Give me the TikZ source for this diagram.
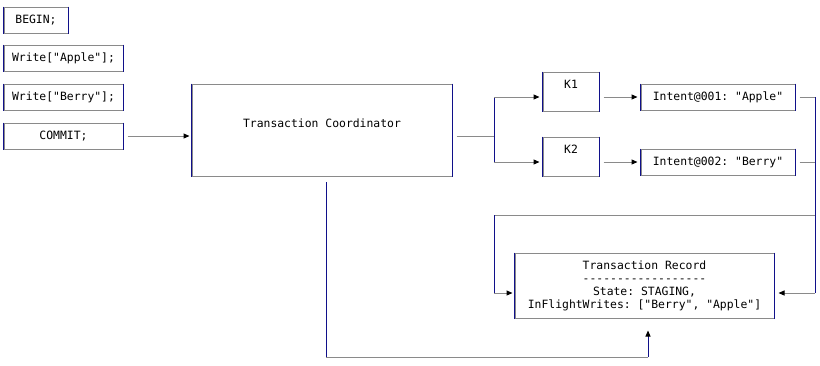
\documentclass[tikz,border=0pt]{standalone}
\usepackage{fontspec}
\setmonofont{DejaVu Sans Mono}
\usetikzlibrary{arrows.meta}
\definecolor{hgray}{HTML}{8A8A8A}
\definecolor{vnavy}{HTML}{10108A}
\begin{document}
\begin{tikzpicture}[x=1pt,y=-1pt,
  box/.style={draw=hgray, line width=1pt, fill=white, inner sep=0pt,
    font=\ttfamily\fontsize{11.4}{13}\selectfont, align=center},
  lbl/.style={font=\ttfamily\fontsize{11.4}{13}\selectfont, inner sep=0pt},
  hline/.style={draw=hgray, line width=1pt},
  vline/.style={draw=vnavy, line width=1pt},
  tip/.style={-{Triangle[length=6pt,width=5pt,color=black]}}]
\useasboundingbox (0,0) rectangle (820,365);
% boxes
\node[box, minimum width=64, minimum height=26] (begin) at (36,20) {BEGIN;};
\node[box, minimum width=119, minimum height=26] (wa) at (63.5,58) {Write["Apple"];};
\node[box, minimum width=119, minimum height=26] (wb) at (63.5,97) {Write["Berry"];};
\node[box, minimum width=119, minimum height=26] (commit) at (63.5,136) {COMMIT;};
\node[box, minimum width=260, minimum height=92,
  label={[lbl,yshift=7pt]center:Transaction Coordinator}] (tc) at (322,130) {};
\node[box, minimum width=56, minimum height=39,
  label={[lbl,yshift=7.5pt]center:K1}] (k1) at (571,91.5) {};
\node[box, minimum width=56, minimum height=39,
  label={[lbl,yshift=7.5pt]center:K2}] (k2) at (571,156.5) {};
\node[box, minimum width=154, minimum height=26] (i1) at (718,97) {Intent@001: "Apple"};
\node[box, minimum width=154, minimum height=26] (i2) at (718,162) {Intent@002: "Berry"};
\node[box, minimum width=259, minimum height=65] (tr) at (644.5,285.5)
  {Transaction Record\\------------------\\State: STAGING,\\InFlightWrites: ["Berry", "Apple"]};
\foreach \n in {begin,wa,wb,commit,tc,k1,k2,i1,i2,tr}
  \draw[vline] (\n.north west) -- (\n.south west) (\n.north east) -- (\n.south east);
% coordinates
\coordinate (fork) at (494,136);
\coordinate (bus) at (815,97);
\coordinate (busl) at (494,215);
\coordinate (trin) at (0,293);
\coordinate (tcdown) at (326,182);
\coordinate (bottom) at (326,357);
% COMMIT -> TC
\draw[hline, tip, shorten <=4pt, shorten >=2pt] (commit.east) -- (tc.west |- commit.east);
% TC -> K1, K2
\draw[hline, shorten <=4pt] (tc.east |- fork) -- (fork);
\draw[vline] (fork |- i1.west) -- (fork |- i2.west);
\draw[hline, tip, shorten >=3pt] (fork |- i1.west) -- (k1.west |- i1.west);
\draw[hline, tip, shorten >=3pt] (fork |- i2.west) -- (k2.west |- i2.west);
% K -> Intent
\draw[hline, tip, shorten <=4pt, shorten >=3pt] (k1.east |- i1.west) -- (i1.west);
\draw[hline, tip, shorten <=4pt, shorten >=3pt] (k2.east |- i2.west) -- (i2.west);
% Intent -> bus
\draw[hline, shorten <=4pt] (i1.east) -- (bus);
\draw[hline, shorten <=4pt] (i2.east) -- (bus |- i2.east);
\draw[vline] (bus) -- (bus |- trin);
\draw[hline] (bus |- busl) -- (busl);
\draw[vline] (busl) -- (busl |- trin);
\draw[hline, tip, shorten >=2pt] (busl |- trin) -- (tr.west |- trin);
\draw[hline, tip, shorten >=4pt] (bus |- trin) -- (tr.east |- trin);
% TC -> TR bottom
\draw[vline] (tcdown) -- (bottom);
\draw[hline] (bottom) -- (bottom -| 648,0);
\draw[vline, tip, shorten >=12pt] (bottom -| 648,0) -- (648,0 |- tr.south);
\end{tikzpicture}
\end{document}
